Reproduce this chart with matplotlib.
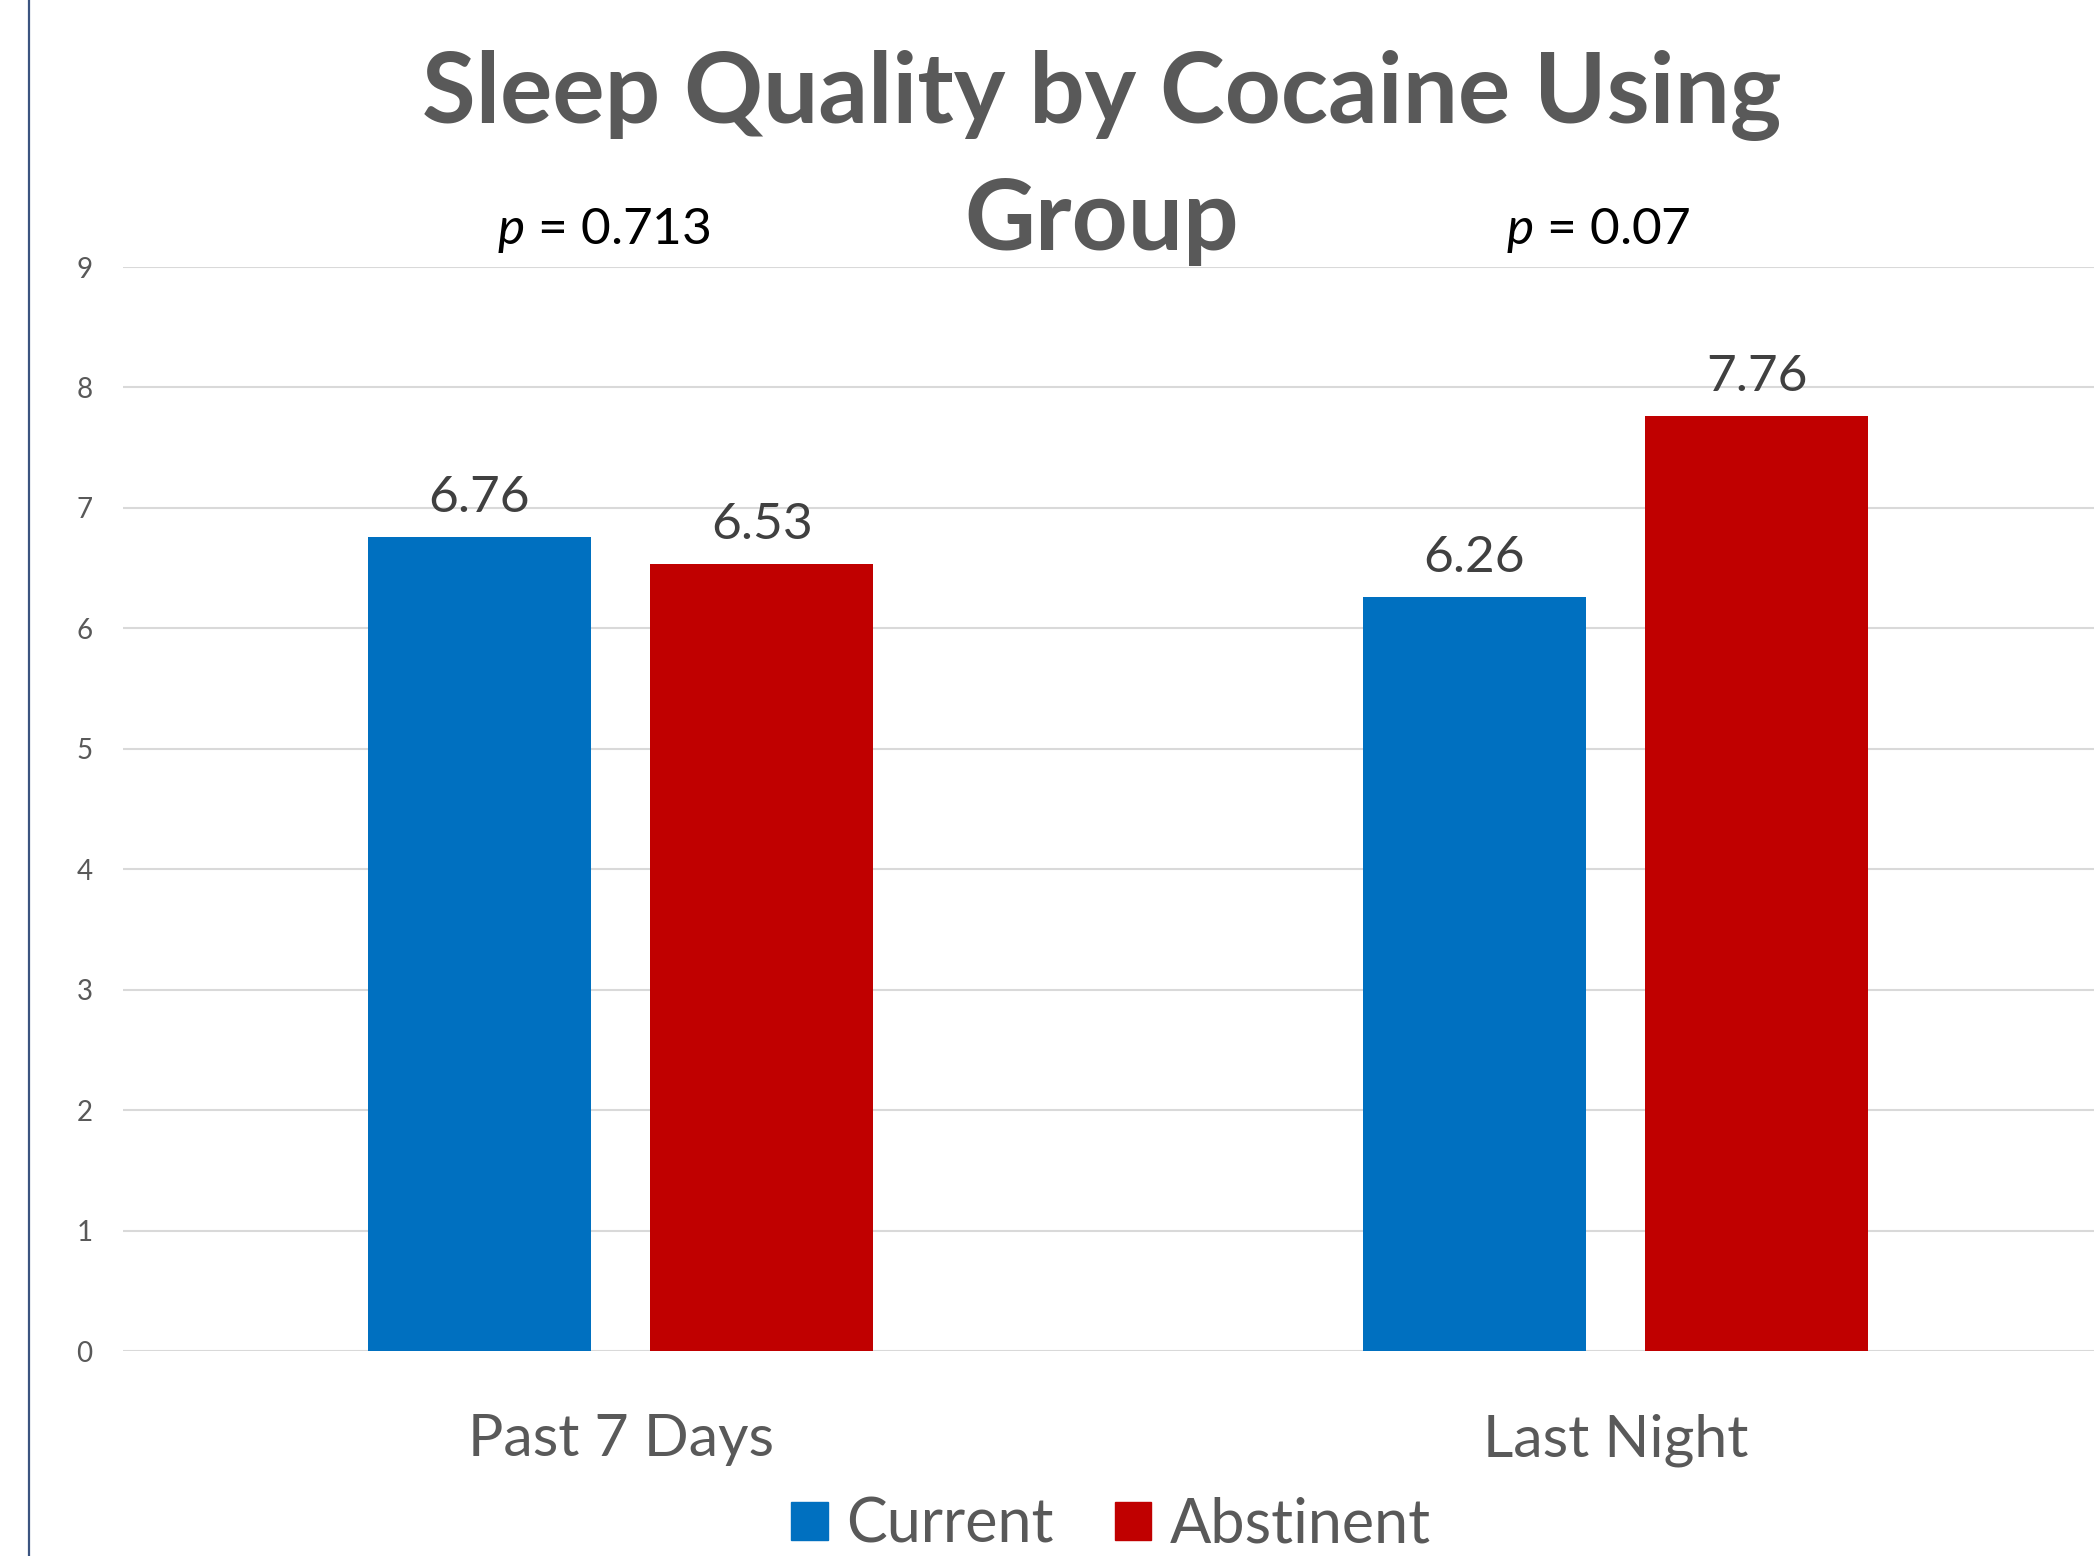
import matplotlib
matplotlib.use("Agg")
import matplotlib.pyplot as plt
from matplotlib.lines import Line2D
from matplotlib.patches import Patch
import numpy as np

# Sleep quality scores by group
categories = ["Past 7 Days", "Last Night"]
current = [6.76, 6.26]
abstinent = [6.53, 7.76]
p_values = ["0.713", "0.07"]
groups = ["Current", "Abstinent"]

BLUE = "#0070c0"
RED = "#c00000"
GRAY = "#595959"

plt.rcParams["font.family"] = ["Lato", "DejaVu Sans"]
plt.rcParams["mathtext.fontset"] = "custom"
plt.rcParams["mathtext.it"] = "Lato:italic"
plt.rcParams["mathtext.rm"] = "Lato"

fig = plt.figure(figsize=(20.94, 15.56), dpi=100)
# axes runs a bit past the right edge of the figure
ax = fig.add_axes([123 / 2094, 1 - 1351 / 1556, 1990 / 2094, (1351 - 267) / 1556])

x = np.arange(len(categories))
w = 0.224
off = 0.142
b1 = ax.bar(x - off, current, w, color=BLUE, zorder=3)
b2 = ax.bar(x + off, abstinent, w, color=RED, zorder=3)

for bars, vals in [(b1, current), (b2, abstinent)]:
    for b, v in zip(bars, vals):
        ax.text(b.get_x() + b.get_width() / 2, v + 0.135, f"{v:.2f}",
                ha="center", va="bottom", fontsize=37, color="#404040")

ax.set_xlim(-0.5, 1.5)
ax.set_ylim(0, 9)
ax.set_yticks(range(10))
ax.set_xticks(x)
ax.set_xticklabels(categories, fontsize=42.5, color=GRAY)
ax.tick_params(axis="x", length=0, pad=45)
ax.tick_params(axis="y", length=0, pad=22, labelsize=20, labelcolor=GRAY)
ax.grid(axis="y", color="#d9d9d9", linewidth=1.5, zorder=0)
for s in ax.spines.values():
    s.set_visible(False)

# p-values above each group
for xi, p in zip(x, p_values):
    ax.text(xi - 0.017, 9.19, f"$p$ = {p}",
            ha="center", va="baseline", fontsize=37, color="black")

fig.text(1102 / 2094, 1 - 123 / 1556, "Sleep Quality by Cocaine Using",
         ha="center", va="baseline", fontsize=70.5, fontweight="bold", color=GRAY)
fig.text(1102 / 2094, 1 - 250 / 1556, "Group",
         ha="center", va="baseline", fontsize=70.5, fontweight="bold", color=GRAY)

handles = [Patch(color=BLUE), Patch(color=RED)]
fig.legend(handles, groups, loc="center", bbox_to_anchor=(1111 / 2094, 1 - 1525 / 1556),
           ncol=2, frameon=False, fontsize=44, labelcolor=GRAY,
           handlelength=0.6, handleheight=0.6, handletextpad=0.3, columnspacing=1.0)

# thin rule down the left side
fig.add_artist(Line2D([29 / 2094, 29 / 2094], [0, 1], color="#3b5480", linewidth=1.6))

fig.savefig("out.png", dpi=100)
